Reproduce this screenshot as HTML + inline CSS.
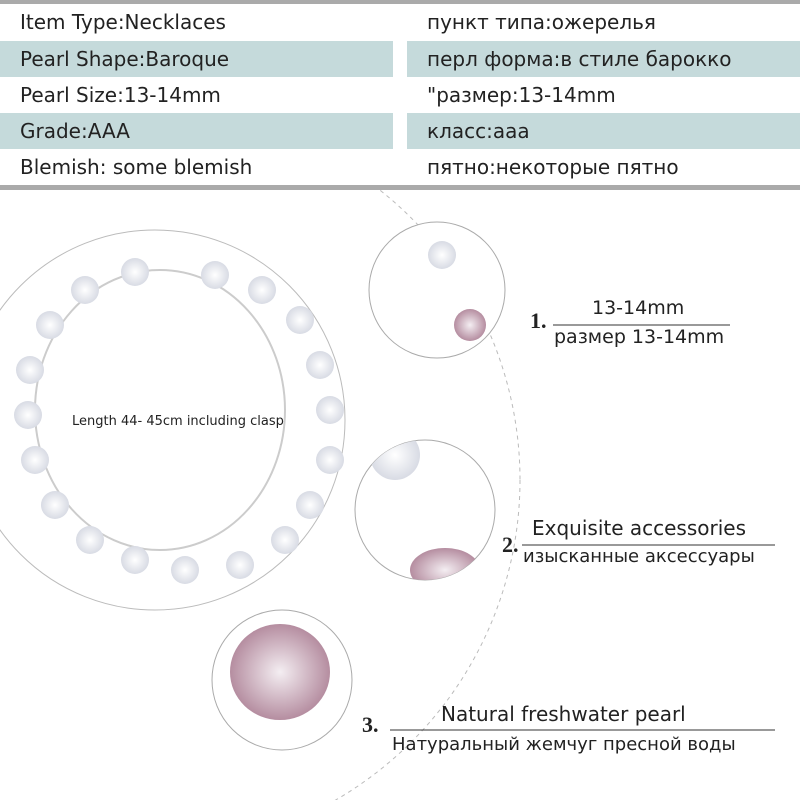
<!DOCTYPE html><html style="overflow:hidden"><head><style>
body{margin:0;width:800px;height:800px;overflow:hidden;background:#fff;font-family:"DejaVu Sans","Liberation Sans",sans-serif;position:relative}
.r{position:absolute;height:36px;line-height:36px;font-size:20px;color:#222;padding-left:20px;box-sizing:border-box}
.c{background:#c5dadb}
.t{position:absolute;color:#222;white-space:nowrap}
</style></head><body>
<div style="position:absolute;left:0;top:0;width:800px;height:4px;background:#aaa"></div>
<div class="r" style="left:0;top:4px;width:393px">Item Type:Necklaces</div>
<div class="r c" style="left:0;top:41px;width:393px">Pearl Shape:Baroque</div>
<div class="r" style="left:0;top:77px;width:393px">Pearl Size:13-14mm</div>
<div class="r c" style="left:0;top:113px;width:393px">Grade:AAA</div>
<div class="r" style="left:0;top:149px;width:393px">Blemish: some blemish</div>
<div class="r" style="left:407px;top:4px;width:393px">пункт типа:ожерелья</div>
<div class="r c" style="left:407px;top:41px;width:393px">перл форма:в стиле барокко</div>
<div class="r" style="left:407px;top:77px;width:393px">"размер:13-14mm</div>
<div class="r c" style="left:407px;top:113px;width:393px">класс:ааа</div>
<div class="r" style="left:407px;top:149px;width:393px">пятно:некоторые пятно</div>
<div style="position:absolute;left:0;top:185px;width:800px;height:5px;background:#aaa"></div>
<svg style="position:absolute;left:0;top:190px" width="800" height="610" viewBox="0 190 800 610">
<defs><radialGradient id="g"><stop offset="0" stop-color="#f4eef2"/><stop offset="1" stop-color="#b58da0"/></radialGradient>
<radialGradient id="w"><stop offset="0" stop-color="#fff"/><stop offset="1" stop-color="#d8dbe4"/></radialGradient>
<clipPath id="c1"><circle cx="437" cy="290" r="68"/></clipPath>
<clipPath id="c2"><circle cx="425" cy="510" r="70"/></clipPath>
<clipPath id="c3"><circle cx="282" cy="680" r="70"/></clipPath></defs>
<circle cx="150" cy="480" r="370" fill="none" stroke="#bbb" stroke-dasharray="4 4"/>
<circle cx="155" cy="420" r="190" fill="#fff" stroke="#bbb"/>
<ellipse cx="160" cy="410" rx="125" ry="140" fill="none" stroke="#ccc" stroke-width="2"/>
<g fill="url(#w)">
<circle cx="135" cy="272" r="14"/><circle cx="215" cy="275" r="14"/><circle cx="262" cy="290" r="14"/><circle cx="300" cy="320" r="14"/><circle cx="320" cy="365" r="14"/><circle cx="330" cy="410" r="14"/><circle cx="330" cy="460" r="14"/><circle cx="310" cy="505" r="14"/><circle cx="285" cy="540" r="14"/><circle cx="240" cy="565" r="14"/><circle cx="185" cy="570" r="14"/><circle cx="135" cy="560" r="14"/><circle cx="90" cy="540" r="14"/><circle cx="55" cy="505" r="14"/><circle cx="35" cy="460" r="14"/><circle cx="28" cy="415" r="14"/><circle cx="30" cy="370" r="14"/><circle cx="50" cy="325" r="14"/><circle cx="85" cy="290" r="14"/></g>
<circle cx="437" cy="290" r="68" fill="#fff" stroke="#aaa"/>
<g clip-path="url(#c1)"><circle cx="442" cy="255" r="14" fill="url(#w)"/><circle cx="470" cy="325" r="16" fill="url(#g)"/></g>
<circle cx="425" cy="510" r="70" fill="#fff" stroke="#aaa"/>
<g clip-path="url(#c2)"><circle cx="395" cy="455" r="25" fill="url(#w)"/><ellipse cx="445" cy="570" rx="35" ry="22" fill="url(#g)"/></g>
<circle cx="282" cy="680" r="70" fill="#fff" stroke="#aaa"/>
<g clip-path="url(#c3)"><ellipse cx="280" cy="672" rx="50" ry="48" fill="url(#g)"/></g>
<line x1="553" y1="325" x2="730" y2="325" stroke="#333"/>
<line x1="522" y1="545" x2="775" y2="545" stroke="#333"/>
<line x1="390" y1="730" x2="775" y2="730" stroke="#333"/>
</svg>
<div class="t" style="left:72px;top:414px;font-size:13px">Length 44- 45cm including clasp</div>
<div class="t" style="left:530px;top:308px;font:bold 22px 'Liberation Serif',serif">1.</div>
<div class="t" style="left:592px;top:297px;font-size:19px">13-14mm</div>
<div class="t" style="left:554px;top:326px;font-size:19px">размер 13-14mm</div>
<div class="t" style="left:502px;top:532px;font:bold 22px 'Liberation Serif',serif">2.</div>
<div class="t" style="left:532px;top:516px;font-size:20px">Exquisite accessories</div>
<div class="t" style="left:523px;top:546px;font-size:18px">изысканные аксессуары</div>
<div class="t" style="left:362px;top:712px;font:bold 22px 'Liberation Serif',serif">3.</div>
<div class="t" style="left:441px;top:702px;font-size:20px">Natural freshwater pearl</div>
<div class="t" style="left:392px;top:734px;font-size:18px">Натуральный жемчуг пресной воды</div>
</body></html>
